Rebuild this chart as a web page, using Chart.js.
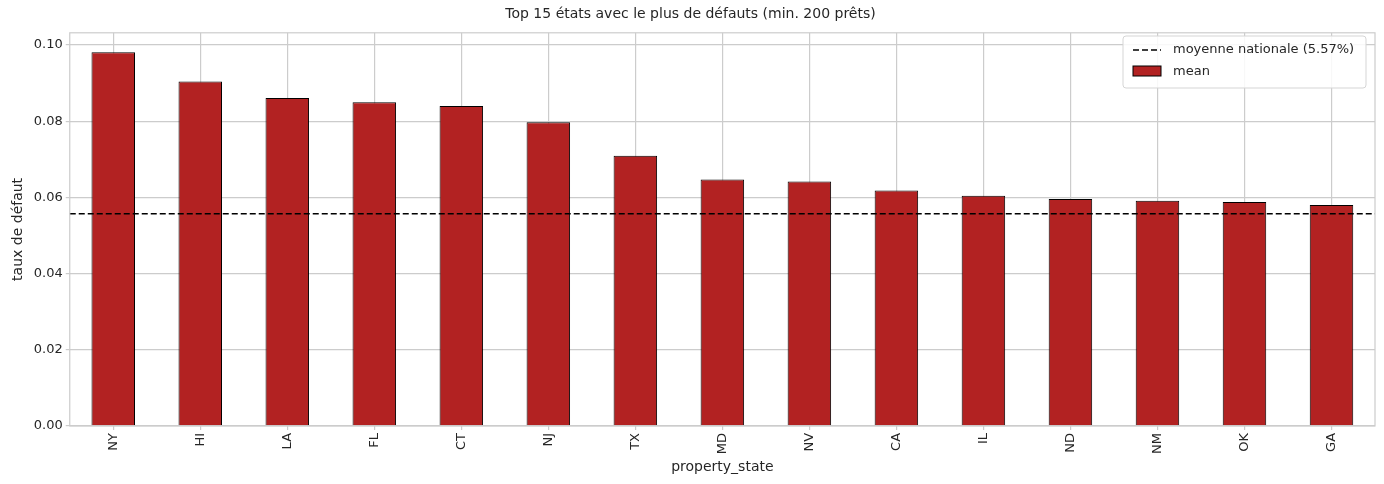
<!DOCTYPE html>
<html><head><meta charset="utf-8">
<script src="https://cdn.jsdelivr.net/npm/chart.js@4"></script>
<style>html,body{margin:0;padding:0;background:#fff}#w{width:1384px;height:484px}</style>
</head><body><div id="w"><canvas id="c"></canvas></div>
<script>
const states = ["NY","HI","LA","FL","CT","NJ","TX","MD","NV","CA","IL","ND","NM","OK","GA"];
const meanRates = [0.0981,0.0904,0.0861,0.0850,0.0840,0.0797,0.0709,0.0647,0.0642,0.0618,0.0604,0.0596,0.0591,0.0588,0.0580];
const nationalMean = 0.0557;
const yTicks = [0,0.02,0.04,0.06,0.08,0.10];
const F = "'DejaVu Sans', sans-serif";
const extra = {
  id:'extra',
  afterDatasetsDraw(ch){
    const {ctx, chartArea:a, scales:{y}} = ch;
    const py = y.getPixelForValue(nationalMean);
    ctx.save();
    ctx.strokeStyle='#000'; ctx.lineWidth=1.6; ctx.setLineDash([6,3]);
    ctx.beginPath(); ctx.moveTo(a.left,py); ctx.lineTo(a.right,py); ctx.stroke();
    ctx.setLineDash([]);
    ctx.strokeStyle='#cccccc'; ctx.lineWidth=1.2;
    ctx.strokeRect(a.left,a.top,a.right-a.left,a.bottom-a.top);
    // legend
    const lx=1123, ly=36, lw=243, lh=52;
    ctx.fillStyle='rgba(255,255,255,0.85)'; ctx.strokeStyle='#d5d5d5'; ctx.lineWidth=1;
    ctx.beginPath(); ctx.roundRect(lx,ly,lw,lh,3); ctx.fill(); ctx.stroke();
    ctx.strokeStyle='#000'; ctx.lineWidth=1.6; ctx.setLineDash([6,3]);
    ctx.beginPath(); ctx.moveTo(lx+10,ly+14); ctx.lineTo(lx+38,ly+14); ctx.stroke();
    ctx.setLineDash([]);
    ctx.fillStyle='#b22222'; ctx.fillRect(lx+10,ly+30,28,10);
    ctx.strokeStyle='#000'; ctx.lineWidth=1; ctx.strokeRect(lx+10,ly+30,28,10);
    ctx.fillStyle='#262626'; ctx.font="13px "+F; ctx.textBaseline='middle';
    ctx.fillText('moyenne nationale (5.57%)',lx+50,ly+14);
    ctx.fillText('mean',lx+50,ly+36);
    ctx.restore();
  }
};
new Chart(document.getElementById('c'),{
  type:'bar',
  data:{labels:states,datasets:[{label:'mean',data:meanRates,backgroundColor:'#b22222',borderColor:'#000',borderWidth:1,barPercentage:0.5,categoryPercentage:1}]},
  options:{
    responsive:true,maintainAspectRatio:false,animation:false,
    layout:{padding:{left:6,right:9,top:4,bottom:4}},
    plugins:{legend:{display:false},tooltip:{enabled:false},
      title:{display:true,text:'Top 15 états avec le plus de défauts (min. 200 prêts)',color:'#262626',font:{family:F,size:14,weight:'normal'},padding:{top:2,bottom:10}}},
    scales:{
      x:{grid:{color:'#cccccc',lineWidth:1.2,offset:false,drawTicks:true,tickLength:4},border:{display:false},
        ticks:{color:'#262626',font:{family:F,size:13},minRotation:90,maxRotation:90},
        title:{display:true,text:'property_state',color:'#262626',font:{family:F,size:14},padding:{top:2}}},
      y:{min:0,max:0.1032,grid:{color:'#cccccc',lineWidth:1.2,tickLength:4},border:{display:false},
        afterBuildTicks(ax){ax.ticks=yTicks.map(v=>({value:v}));},
        ticks:{color:'#262626',font:{family:F,size:13},callback:v=>v.toFixed(2)},
        title:{display:true,text:'taux de défaut',color:'#262626',font:{family:F,size:14},padding:{bottom:4}}}
    }
  },
  plugins:[extra]
});
</script></body></html>
